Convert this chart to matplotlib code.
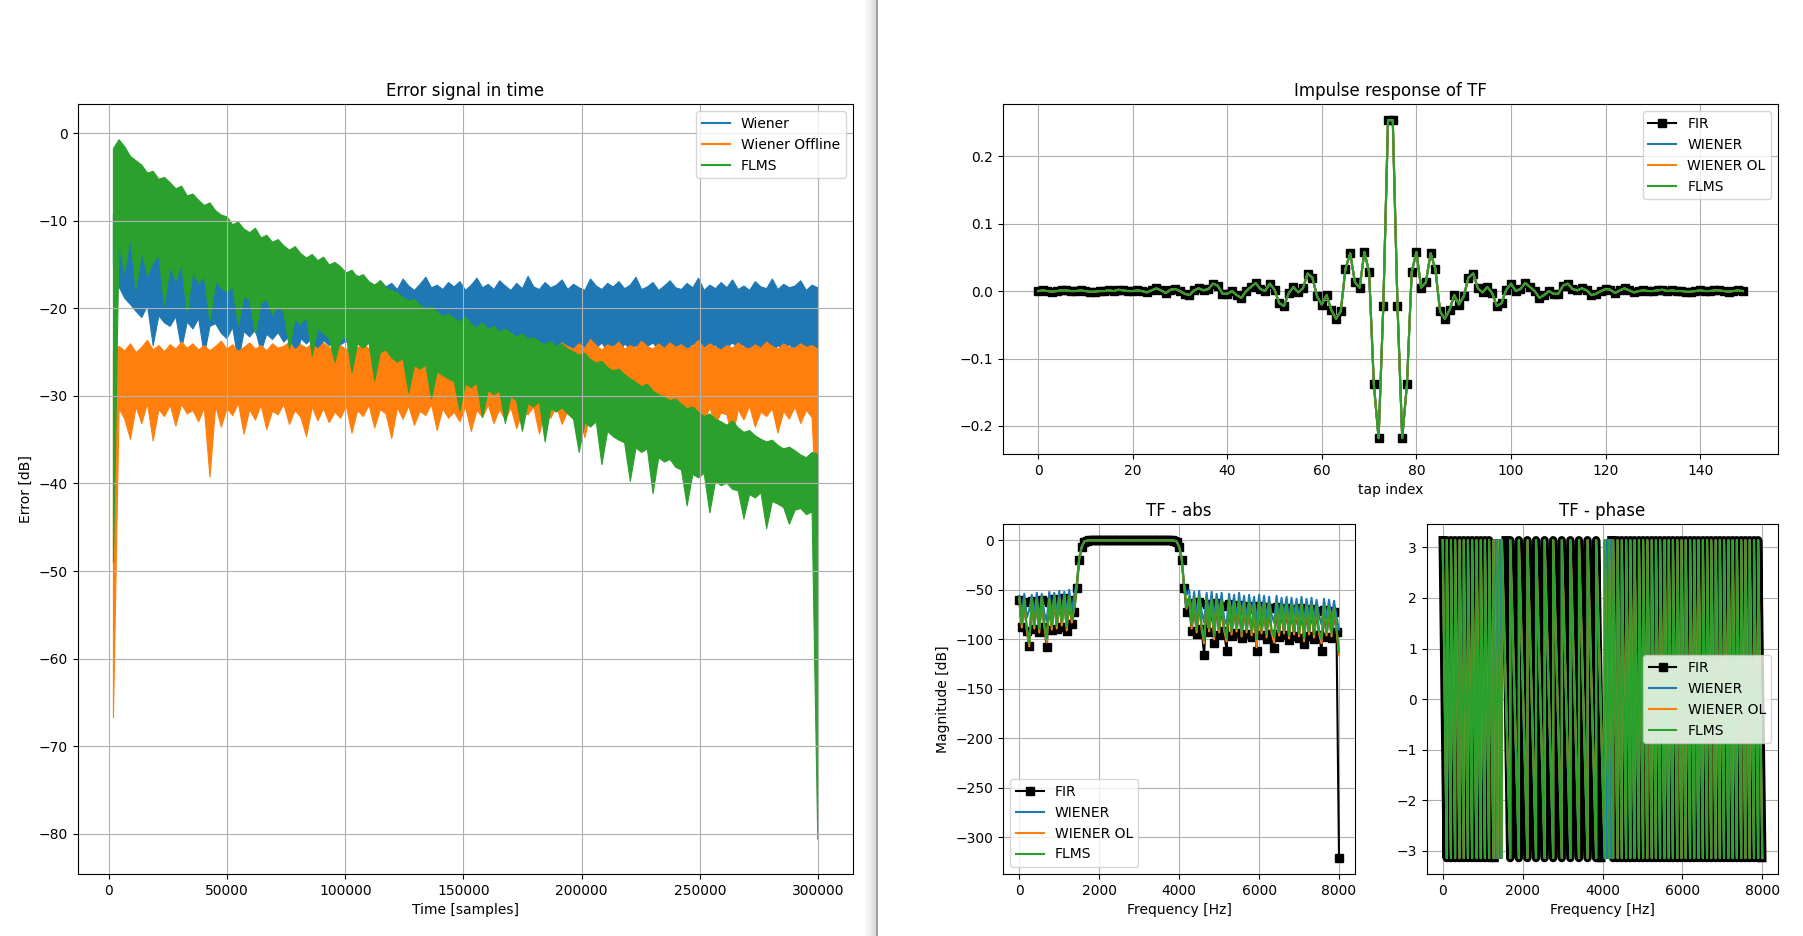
import numpy as np
import matplotlib
matplotlib.use('Agg')
from matplotlib import pyplot as plt
from matplotlib.lines import Line2D

## data

# error signal in time (dB): upper and lower edge of each noise band,
# 125 readings spread evenly from T_START to T_END
T_START = 1700
T_END = 299700

wiener_hi = [
    -9.2, -10.1, -9.6, -11.4, -10.8, -12.3, -11.7, -12.9, -12.4, -13.1,
    -13.6, -12.8, -14.0, -13.4, -14.5, -13.9, -14.8, -14.2, -15.1, -14.6,
    -15.3, -14.9, -15.6, -15.0, -15.8, -15.4, -16.1, -15.7, -16.3, -15.9,
    -16.4, -16.0, -16.7, -16.2, -16.9, -16.5, -17.0, -16.6, -17.2, -16.8,
    -17.3, -16.9, -17.6, -16.2, -17.4, -17.0, -17.7, -16.8, -17.5, -17.1,
    -17.8, -16.6, -17.4, -17.9, -17.2, -16.4, -17.6, -17.3, -17.8, -17.0,
    -17.5, -16.9, -17.9, -17.3, -16.5, -17.6, -17.2, -17.8, -16.8, -17.4,
    -17.9, -17.1, -17.7, -16.3, -17.5, -17.8, -17.0, -17.6, -17.3, -16.7,
    -17.8, -17.2, -17.6, -17.9, -16.6, -17.4, -17.8, -17.1, -17.5, -16.9,
    -17.7, -17.3, -16.4, -17.8, -17.5, -17.0, -17.9, -17.4, -16.8, -17.6,
    -17.8, -17.1, -17.6, -16.5, -17.9, -17.3, -17.7, -17.0, -17.6, -16.7,
    -17.8, -17.4, -17.9, -16.9, -17.5, -17.7, -16.6, -17.8, -17.2, -17.6,
    -17.4, -16.8, -17.9, -17.3, -17.6,
]
wiener_lo = [
    -15.0, -17.5, -18.8, -19.5, -20.3, -21.0, -19.6, -24.2, -20.8, -21.6,
    -22.0, -20.9, -24.6, -21.5, -22.3, -21.1, -25.3, -22.0, -21.7, -22.8,
    -23.4, -22.1, -26.1, -22.6, -23.2, -22.4, -24.9, -22.9, -23.5, -22.7,
    -23.8, -23.1, -26.8, -23.4, -24.0, -23.3, -25.6, -23.6, -24.2, -23.5,
    -24.1, -23.7, -24.6, -23.9, -24.3, -23.6, -25.2, -24.0, -23.8, -24.4,
    -23.9, -24.5, -23.7, -25.5, -24.1, -23.8, -24.6, -24.0, -25.0, -23.9,
    -24.3, -23.8, -24.7, -24.2, -25.4, -24.0, -23.9, -24.8, -24.1, -23.7,
    -24.5, -24.0, -25.6, -24.2, -23.9, -24.6, -24.1, -25.1, -24.3, -23.8,
    -24.4, -24.9, -24.0, -25.7, -24.2, -24.5, -23.9, -24.8, -24.1, -25.3,
    -24.0, -24.6, -24.2, -25.0, -24.3, -23.9, -24.7, -25.5, -24.1, -24.4,
    -24.2, -24.8, -24.0, -25.6, -24.3, -24.6, -24.1, -25.2, -24.4, -23.9,
    -24.5, -24.1, -25.4, -24.3, -24.7, -24.0, -25.1, -24.2, -24.6, -24.1,
    -24.8, -24.2, -25.0, -24.4, -25.5,
]

wiener_offline_hi = [
    -25.1, -24.3, -24.8, -24.0, -25.0, -24.4, -23.6, -24.7, -24.2, -24.9,
    -24.1, -24.6, -23.8, -24.5, -24.0, -24.7, -24.2, -24.8, -24.3, -23.7,
    -24.6, -24.1, -24.9, -24.4, -23.9, -24.6, -24.2, -24.8, -24.0, -24.5,
    -24.3, -23.8, -24.7, -24.1, -24.5, -24.0, -24.6, -23.9, -24.4, -24.8,
    -24.2, -24.7, -23.7, -24.5, -24.0, -24.6, -24.1, -24.8, -24.3, -24.6,
    -24.0, -24.5, -23.8, -24.4, -24.7, -24.1, -24.6, -24.2, -23.6, -24.4,
    -24.7, -24.0, -24.5, -23.9, -24.3, -24.8, -24.1, -24.6, -24.2, -23.4,
    -24.5, -24.0, -24.6, -24.3, -23.8, -24.4, -24.7, -24.1, -24.5, -23.9,
    -24.3, -24.6, -24.0, -24.5, -23.5, -24.2, -24.7, -24.1, -24.4, -23.8,
    -24.6, -24.2, -24.5, -23.7, -24.3, -24.6, -24.0, -24.5, -23.9, -24.4,
    -24.1, -24.6, -24.3, -23.6, -24.5, -24.0, -24.4, -24.7, -24.2, -24.5,
    -23.9, -24.4, -24.6, -24.1, -24.5, -23.8, -24.3, -24.6, -24.0, -24.4,
    -24.5, -24.0, -24.4, -24.2, -24.6,
]
wiener_offline_lo = [
    -66.7, -31.4, -32.6, -34.9, -31.2, -33.1, -30.8, -35.1, -31.5, -32.3,
    -31.0, -33.4, -30.9, -32.0, -31.6, -32.9, -31.3, -39.2, -31.1, -33.5,
    -31.4, -32.2, -30.8, -34.3, -31.5, -32.7, -31.0, -33.8, -31.7, -32.1,
    -30.9, -33.2, -31.6, -32.4, -34.6, -31.2, -32.8, -31.4, -33.0, -31.8,
    -32.5, -31.1, -34.2, -31.6, -32.3, -31.0, -33.6, -31.5, -32.0, -34.8,
    -31.3, -32.6, -31.1, -33.3, -31.7, -32.2, -30.9, -33.9, -31.4, -32.5,
    -31.8, -32.9, -31.2, -34.0, -31.6, -32.4, -31.0, -33.1, -31.5, -32.7,
    -31.3, -33.7, -31.8, -32.1, -31.2, -34.3, -31.6, -32.5, -31.1, -33.2,
    -31.7, -32.3, -31.4, -34.7, -31.9, -32.6, -31.2, -33.4, -31.5, -32.0,
    -31.6, -33.0, -31.3, -32.4, -34.1, -31.8, -32.2, -31.4, -33.6, -31.7,
    -32.5, -31.2, -34.5, -31.6, -32.8, -31.3, -33.2, -31.9, -32.1, -34.8,
    -31.5, -32.7, -31.1, -33.5, -31.8, -32.3, -31.4, -34.2, -31.7, -32.6,
    -31.2, -33.1, -31.6, -32.4, -46.5,
]

flms_hi = [
    -1.7, -0.7, -1.5, -2.6, -3.1, -3.6, -4.5, -4.3, -5.2, -5.0,
    -5.6, -6.3, -6.0, -7.1, -6.9, -7.6, -8.2, -7.9, -8.8, -9.3,
    -9.5, -10.4, -10.1, -10.9, -11.3, -10.8, -11.9, -11.6, -12.4, -12.1,
    -12.8, -13.3, -12.9, -13.7, -14.2, -13.8, -14.5, -14.1, -15.0, -14.7,
    -15.2, -15.9, -15.6, -16.4, -16.1, -16.9, -17.3, -16.8, -17.6, -17.9,
    -18.2, -18.7, -19.1, -18.9, -19.6, -20.0, -19.8, -20.4, -20.9, -20.6,
    -21.1, -21.5, -20.9, -21.8, -22.2, -21.6, -22.4, -22.0, -22.7, -22.3,
    -22.8, -23.2, -22.9, -23.5, -23.3, -23.8, -24.1, -23.7, -24.3, -24.0,
    -24.6, -24.9, -25.3, -25.1, -25.8, -26.2, -26.0, -26.7, -27.1, -26.9,
    -27.5, -28.0, -28.4, -28.9, -28.6, -29.4, -29.8, -30.1, -30.5, -30.3,
    -30.9, -31.4, -31.2, -31.8, -32.3, -32.0, -32.6, -32.9, -33.3, -32.8,
    -33.6, -34.1, -33.9, -34.5, -34.9, -35.2, -35.0, -35.6, -36.0, -35.8,
    -36.2, -36.7, -37.0, -36.4, -36.6,
]
flms_lo = [
    -49.0, -12.6, -15.9, -11.8, -17.8, -13.4, -16.2, -14.7, -13.9, -19.6,
    -15.2, -16.8, -14.9, -20.5, -15.8, -17.1, -16.3, -21.4, -16.9, -17.6,
    -18.1, -17.5, -21.9, -18.6, -19.0, -22.8, -19.4, -18.9, -20.7, -19.8,
    -20.4, -24.6, -21.2, -21.8, -20.9, -25.4, -22.3, -22.8, -23.4, -26.1,
    -23.6, -23.1, -27.3, -24.0, -24.5, -23.9, -28.2, -25.0, -24.7, -25.6,
    -26.1, -25.7, -29.6, -26.5, -26.9, -26.4, -30.3, -27.2, -27.6, -28.0,
    -28.3, -31.7, -28.6, -29.0, -28.5, -32.4, -29.3, -29.8, -29.4, -33.1,
    -30.0, -30.5, -34.0, -30.8, -31.2, -30.6, -35.2, -31.4, -31.8, -31.3,
    -32.0, -32.6, -36.4, -33.0, -33.5, -32.9, -37.8, -34.0, -34.6, -35.0,
    -35.3, -39.7, -35.9, -36.4, -36.0, -41.1, -37.0, -37.5, -37.2, -38.1,
    -38.4, -42.5, -38.9, -39.3, -38.8, -43.3, -39.7, -40.2, -39.9, -40.6,
    -40.8, -44.0, -41.2, -41.6, -41.0, -45.1, -42.0, -42.3, -42.7, -44.6,
    -43.0, -42.8, -43.5, -43.2, -80.6,
]

# impulse response, 150 taps
fir_h = [
    0.000, 0.001, 0.000, -0.001, 0.000, 0.001, 0.001, 0.000, 0.000, 0.001,
    0.000, -0.001, -0.001, 0.000, 0.000, 0.001, 0.000, 0.002, 0.001, 0.000,
    0.000, 0.001, 0.000, -0.002, 0.001, 0.004, 0.001, -0.003, 0.002, 0.003,
    0.000, -0.004, -0.006, 0.001, 0.004, 0.001, 0.003, 0.011, 0.008, -0.004,
    -0.004, 0.000, -0.006, -0.010, 0.000, 0.006, 0.012, 0.003, 0.000, 0.011,
    0.002, -0.018, -0.022, -0.003, 0.006, -0.002, 0.004, 0.026, 0.020, -0.008,
    -0.020, -0.006, -0.028, -0.041, -0.030, 0.033, 0.056, 0.013, 0.005, 0.058,
    0.028, -0.138, -0.218, -0.022, 0.2533, 0.2533, -0.022, -0.218, -0.138, 0.028,
    0.058, 0.005, 0.013, 0.056, 0.033, -0.030, -0.041, -0.028, -0.006, -0.020,
    -0.008, 0.020, 0.026, 0.004, -0.002, 0.006, -0.003, -0.022, -0.018, 0.002,
    0.011, 0.000, 0.003, 0.012, 0.006, 0.000, -0.010, -0.006, 0.000, -0.004,
    -0.004, 0.008, 0.011, 0.003, 0.001, 0.004, 0.001, -0.006, -0.004, 0.000,
    0.003, 0.002, -0.003, 0.001, 0.004, 0.001, -0.002, 0.000, 0.001, 0.000,
    0.000, 0.001, 0.002, 0.000, 0.001, 0.000, 0.000, -0.001, -0.001, 0.000,
    0.001, 0.000, 0.000, 0.001, 0.001, 0.000, -0.001, 0.000, 0.001, 0.000,
]
# the three estimates lie on top of the FIR in the picture
wiener_h = list(fir_h)
wiener_ol_h = list(fir_h)
flms_h = list(fir_h)

# magnitude (dB) on 129 bins from 0 to 8000 Hz
F_MAX = 8000
fir_abs = [
    -60, -88, -62, -92, -106.5, -61, -90, -63, -93, -60, -88, -107.5, -62, -91, -59, -90, -61, -87, -58, -92, -60, -84, -72,
    -48, -20, -7, -1.5, -0.3,
    0.1, 0.0, -0.1, 0.0, 0.1, 0.2, 0.1, 0.0, -0.1, 0.0, 0.1, 0.0, -0.1, 0.0, 0.1, 0.1, 0.0,
    -0.1, 0.0, 0.1, 0.2, 0.1, 0.0, -0.1, 0.0, 0.1, 0.0, -0.1, 0.0, 0.1, 0.1, 0.0, -0.1, 0.0,
    -0.3, -1.5, -7, -20, -48, -72,
    -63, -92, -64, -95, -62, -90, -115.9, -64, -93, -65, -104, -63, -96, -66, -92, -111.5, -64, -97, -66, -94,
    -65, -99, -67, -95, -66, -98, -68, -111.5, -66, -96, -67, -100, -68, -95, -108.7, -67, -98, -69, -96, -68,
    -101, -69, -97, -70, -99, -68, -105, -70, -97, -69, -100, -71, -96, -111.5, -70, -98, -71, -99, -72, -93,
    -321,
]
wiener_abs = [
    -56, -74, -54, -78, -70, -55, -76, -53, -80, -54, -73, -82, -52, -77, -53, -75, -51, -79, -52, -74, -50, -72, -55,
    -44, -17, -6.3, -1.1, -0.2,
    0.0, 0.1, 0.0, -0.1, 0.0, 0.1, 0.0, 0.0, -0.1, 0.0, 0.1, 0.0, 0.0, -0.1, 0.0, 0.1, 0.0,
    0.0, -0.1, 0.0, 0.1, 0.0, 0.0, -0.1, 0.0, 0.1, 0.0, 0.0, -0.1, 0.0, 0.1, 0.0, 0.0, 0.0,
    -0.2, -1.1, -6.3, -17, -45, -55,
    -50, -74, -52, -78, -51, -72, -83, -53, -76, -52, -80, -54, -75, -53, -79, -85, -54, -77, -55, -81,
    -53, -76, -56, -82, -55, -74, -57, -84, -55, -78, -56, -80, -57, -75, -83, -56, -79, -58, -77, -57,
    -81, -58, -76, -59, -80, -57, -84, -59, -78, -58, -82, -60, -76, -85, -59, -79, -60, -81, -61, -77,
    -90,
]
wiener_ol_abs = [
    -59, -88, -61, -91, -107, -59, -89, -61, -93, -58, -87, -103, -60, -90, -57, -89, -59, -86, -56, -91, -58, -83, -69,
    -46, -18, -6.5, -1.2, -0.2,
    0.0, 0.0, 0.0, 0.0, 0.0, 0.0, 0.0, 0.0, 0.0, 0.0, 0.0, 0.0, 0.0, 0.0, 0.0, 0.0, 0.0,
    0.0, 0.0, 0.0, 0.0, 0.0, 0.0, 0.0, 0.0, 0.0, 0.0, 0.0, 0.0, 0.0, 0.0, 0.0, 0.0, 0.0,
    -0.2, -1.2, -6.5, -18, -46, -69,
    -58, -89, -59, -93, -58, -90, -104, -60, -92, -61, -100, -60, -93, -62, -91, -102, -61, -95, -63, -92,
    -62, -97, -64, -93, -63, -96, -65, -108, -63, -94, -64, -98, -65, -93, -103, -64, -96, -66, -94, -65,
    -99, -66, -95, -67, -97, -65, -102, -67, -95, -66, -98, -68, -94, -104, -67, -96, -68, -97, -69, -91,
    -116,
]
flms_abs = [
    -58, -85, -60, -88, -104, -58, -86, -60, -90, -57, -84, -100, -59, -87, -56, -86, -58, -83, -55, -88, -57, -80, -68,
    -46, -18, -6.5, -1.2, -0.2,
    0.0, 0.0, 0.0, 0.0, 0.0, 0.0, 0.0, 0.0, 0.0, 0.0, 0.0, 0.0, 0.0, 0.0, 0.0, 0.0, 0.0,
    0.0, 0.0, 0.0, 0.0, 0.0, 0.0, 0.0, 0.0, 0.0, 0.0, 0.0, 0.0, 0.0, 0.0, 0.0, 0.0, 0.0,
    -0.2, -1.2, -6.5, -18, -46, -68,
    -57, -86, -58, -90, -57, -87, -101, -59, -89, -60, -97, -59, -90, -61, -88, -99, -60, -92, -62, -89,
    -61, -94, -63, -90, -62, -93, -64, -100, -62, -91, -63, -95, -64, -90, -98, -63, -93, -65, -91, -64,
    -96, -65, -92, -66, -94, -64, -99, -66, -92, -65, -95, -67, -91, -100, -66, -93, -67, -94, -68, -88,
    -113,
]

# phase: frequencies (Hz) where each wrapped phase jumps from -pi back to +pi
fir_wraps = [
    [0, 100, 205, 310, 420, 525, 630, 735, 845, 950, 1055, 1160, 1300],
    [1577, 1690, 1905, 2120, 2335, 2550, 2765, 2980, 3195, 3410, 3625, 3840, 3970],
    [4222, 4265, 4375, 4480, 4590, 4695, 4800, 4910, 5015, 5120, 5230, 5335, 5440, 5550, 5655, 5760, 5870,
     5975, 6080, 6190, 6295, 6400, 6510, 6615, 6720, 6830, 6935, 7040, 7150, 7255, 7360, 7470, 7575,
     7680, 7790, 7895, 8000],
]
wiener_wraps = [
    0, 100, 205, 310, 420, 525, 630, 735, 845, 950, 1055, 1160, 1270, 1290, 1310, 1330, 1350, 1370, 1390,
    1410, 1430, 1450, 1480, 1690, 1905, 2120, 2335, 2550, 2765, 2980, 3195, 3410, 3625, 3840, 4055, 4100,
    4120, 4140, 4160, 4180, 4200, 4220, 4240, 4265, 4375, 4480, 4590, 4695, 4800, 4910, 5015, 5120, 5230,
    5335, 5440, 5550, 5655, 5760, 5870, 5975, 6080, 6190, 6295, 6400, 6510, 6615, 6720, 6830, 6935, 7040,
    7150, 7255, 7360, 7470, 7575, 7680, 7790, 7895, 8000,
]
wiener_ol_wraps = [
    0, 104, 209, 315, 424, 530, 634, 740, 849, 955, 1059, 1165, 1274, 1380, 1484, 1694, 1909, 2124, 2339,
    2554, 2769, 2984, 3199, 3414, 3629, 3844, 4059, 4164, 4270, 4379, 4485, 4594, 4700, 4804, 4915, 5019,
    5125, 5234, 5340, 5444, 5555, 5659, 5765, 5874, 5980, 6084, 6195, 6299, 6405, 6514, 6620, 6724, 6835,
    6939, 7045, 7154, 7260, 7364, 7475, 7579, 7685, 7794, 7900, 8000,
]
flms_wraps = [
    0, 100, 205, 310, 420, 525, 630, 735, 845, 950, 1055, 1160, 1270, 1375, 1480, 1690, 1905, 2120, 2335,
    2550, 2765, 2980, 3195, 3410, 3625, 3840, 4055, 4160, 4265, 4375, 4480, 4590, 4695, 4800, 4910, 5015,
    5120, 5230, 5335, 5440, 5550, 5655, 5760, 5870, 5975, 6080, 6190, 6295, 6400, 6510, 6615, 6720, 6830,
    6935, 7040, 7150, 7255, 7360, 7470, 7575, 7680, 7790, 7895, 8000,
]


def sawtooth(wraps):
    ''' vertices of a wrapped phase falling from +pi to -pi between wraps '''
    xs = []
    ys = []
    for a, b in zip(wraps[:-1], wraps[1:]):
        xs += [a, b]
        ys += [np.pi, -np.pi]
    return xs, ys


W, H = 1803, 936
fig = plt.figure(figsize=(W / 100.0, H / 100.0), dpi=100)


def box(left, top, right, bottom):
    return [left / W, 1 - bottom / H, (right - left) / W, (bottom - top) / H]


## left window: error signal
ax = fig.add_axes(box(77.7, 104.3, 852.5, 874))
bands = [(wiener_hi, wiener_lo, 'C0', 'Wiener'),
         (wiener_offline_hi, wiener_offline_lo, 'C1', 'Wiener Offline'),
         (flms_hi, flms_lo, 'C2', 'FLMS')]
for hi, lo, c, name in bands:
    t = np.linspace(T_START, T_END, len(hi))
    ax.fill_between(t, lo, hi, color=c, lw=0.8)
    ax.plot([], [], color=c, label=name)
ax.set_title('Error signal in time')
ax.set_xlabel('Time [samples]')
ax.set_ylabel('Error [dB]')
ax.grid(True)
ax.legend(loc='upper right')

# window border between the two screenshots
shade = fig.add_axes([865 / W, 0, 11 / W, 1])
shade.imshow(np.linspace(0, 1, 32).reshape(1, -1), cmap='Greys', vmin=-0.2, vmax=4.5,
             aspect='auto', extent=(0, 1, 0, 1))
shade.axis('off')
fig.add_artist(Line2D([876.8 / W, 876.8 / W], [0, 1], color='#8c8c8c', lw=1.2))

## right window: impulse response
ax = fig.add_axes(box(1002.8, 104.3, 1778, 454))
taps = np.arange(len(fir_h))
ax.plot(taps, fir_h, 'ks-', label='FIR')
ax.plot(taps, wiener_h, label='WIENER')
ax.plot(taps, wiener_ol_h, label='WIENER OL')
ax.plot(taps, flms_h, label='FLMS')
ax.set_title('Impulse response of TF')
ax.set_xlabel('tap index')
ax.grid(True)
ax.legend(loc='upper right')

## magnitude
ax = fig.add_axes(box(1003.3, 524.3, 1355, 874))
freqs = np.linspace(0, F_MAX, len(fir_abs))
ax.plot(freqs, fir_abs, 'ks-', label='FIR')
ax.plot(freqs, wiener_abs, label='WIENER')
ax.plot(freqs, wiener_ol_abs, label='WIENER OL')
ax.plot(freqs, flms_abs, label='FLMS')
ax.set_title('TF - abs')
ax.set_xlabel('Frequency [Hz]')
ax.set_ylabel('Magnitude [dB]')
ax.grid(True)
ax.legend(loc='lower left')

## phase
ax = fig.add_axes(box(1426.7, 524.3, 1778.3, 874))
for seg in fir_wraps:
    x, y = sawtooth(seg)
    ax.plot(x, y, 'k-', lw=6)
x, y = sawtooth(wiener_wraps)
l1, = ax.plot(x, y, color='C0')
x, y = sawtooth(wiener_ol_wraps)
l2, = ax.plot(x, y, color='C1')
x, y = sawtooth(flms_wraps)
l3, = ax.plot(x, y, color='C2')
fir_handle = Line2D([], [], color='k', marker='s')
ax.set_title('TF - phase')
ax.set_xlabel('Frequency [Hz]')
ax.grid(True)
ax.legend([fir_handle, l1, l2, l3], ['FIR', 'WIENER', 'WIENER OL', 'FLMS'], loc='center right')

plt.savefig('out.png', dpi=100)
